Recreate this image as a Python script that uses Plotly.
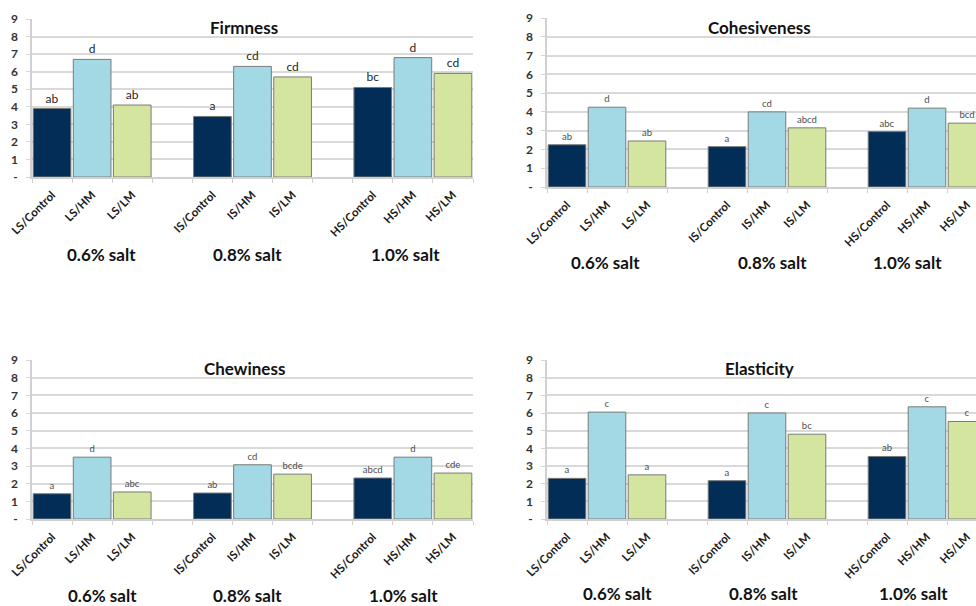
import plotly.graph_objects as go

# Treatments, grouped by salt level (Control / high-MTGase / low-MTGase)
categories = ["LS/Control", "LS/HM", "LS/LM",
              "IS/Control", "IS/HM", "IS/LM",
              "HS/Control", "HS/HM", "HS/LM"]
salt_groups = ["0.6% salt", "0.8% salt", "1.0% salt"]

firmness = [3.9, 6.7, 4.1, 3.45, 6.3, 5.7, 5.1, 6.8, 5.9]
firmness_letters = ["ab", "d", "ab", "a", "cd", "cd", "bc", "d", "cd"]

cohesiveness = [2.25, 4.25, 2.45, 2.15, 4.0, 3.15, 2.95, 4.2, 3.4]
cohesiveness_letters = ["ab", "d", "ab", "a", "cd", "abcd", "abc", "d", "bcd"]

chewiness = [1.43, 3.5, 1.53, 1.47, 3.07, 2.54, 2.32, 3.5, 2.6]
chewiness_letters = ["a", "d", "abc", "ab", "cd", "bcde", "abcd", "d", "cde"]

elasticity = [2.3, 6.05, 2.5, 2.17, 6.0, 4.8, 3.54, 6.35, 5.52]
elasticity_letters = ["a", "c", "a", "a", "c", "bc", "ab", "c", "c"]

y_ticks = [0, 1, 2, 3, 4, 5, 6, 7, 8, 9]
y_ticktext = ["-", "1", "2", "3", "4", "5", "6", "7", "8", "9"]

treatment_colors = ["#012d57", "#a2d9e5", "#d4e5a0"]

W, H = 976, 606
FONT = "Lato"

# category order with an empty slot between salt levels
axis_categories = (categories[0:3] + [" "] + categories[3:6] + ["  "] + categories[6:9])

panels = [
    # title, values, letters, x px span, y px (top, bottom), letter size/colour, range end, title y, group y, group x centres
    ("Firmness", firmness, firmness_letters, (32, 473), (19, 177), 12, "#262626", 10.5, 27, 255, (101, 247, 405)),
    ("Cohesiveness", cohesiveness, cohesiveness_letters, (547, 976), (18, 187), 9.5, "#4d4d4d", 10.225, 27, 262, (605, 772, 907)),
    ("Chewiness", chewiness, chewiness_letters, (32, 473), (360, 519), 9.5, "#4d4d4d", 10.5, 368, 595, (102, 247, 403)),
    ("Elasticity", elasticity, elasticity_letters, (547, 976), (360, 519), 9.5, "#4d4d4d", 10.225, 368, 593, (617, 763, 913)),
]

fig = go.Figure()
annotations = []
layout_axes = {}

for i, (title, vals, letters, (x0, x1), (ytop, ybot), lsize, lcolor, rend, ty, gy, gxs) in enumerate(panels, start=1):
    xa = "x" if i == 1 else f"x{i}"
    ya = "y" if i == 1 else f"y{i}"
    colors = [treatment_colors[k % 3] for k in range(len(categories))]
    letter_font = dict(family=FONT, size=lsize, color=lcolor)
    fig.add_trace(go.Bar(
        x=categories, y=vals, text=letters,
        textposition="outside", cliponaxis=True,
        textfont=letter_font, outsidetextfont=letter_font,
        marker=dict(color=colors, line=dict(color="#7a7a7a", width=1)),
        xaxis=xa, yaxis=ya, showlegend=False, hoverinfo="x+y",
    ))
    xname = "xaxis" if i == 1 else f"xaxis{i}"
    yname = "yaxis" if i == 1 else f"yaxis{i}"
    layout_axes[xname] = dict(
        domain=[x0 / W, x1 / W], anchor=ya, automargin=False,
        type="category", categoryorder="array", categoryarray=axis_categories,
        range=[-0.5, rend], tickson="boundaries",
        ticks="outside", ticklen=4, tickcolor="#d0d0d0",
        ticklabelstandoff=5,
        showline=True, linecolor="#d0d0d0", linewidth=1.5,
        showgrid=False, tickangle=-45,
        tickfont=dict(family=FONT, size=11.5, color="#1a1a1a", weight="bold"),
        fixedrange=True,
    )
    layout_axes[yname] = dict(
        domain=[1 - ybot / H, 1 - ytop / H], anchor=xa, automargin=False,
        range=[0, 9], tickvals=y_ticks, ticktext=y_ticktext,
        ticks="outside", ticklen=4, tickcolor="#d6d6d6",
        ticklabelstandoff=6,
        showline=True, linecolor="#d0d0d0", linewidth=1.5,
        showgrid=True, gridcolor="#d9d9d9", gridwidth=1.5,
        zeroline=False,
        tickfont=dict(family=FONT, size=12, color="#333333", weight="bold"),
        fixedrange=True,
    )
    # panel title
    annotations.append(dict(
        text=f"<b>{title}</b>", x=((x0 + (x0 + 440)) / 2 - 8) / W, y=1 - ty / H,
        xref="paper", yref="paper", showarrow=False, xanchor="center", yanchor="middle",
        font=dict(family=FONT, size=17, color="#111111"),
    ))
    # salt level labels under each group
    for g, gx in zip(salt_groups, gxs):
        annotations.append(dict(
            text=f"<b>{g}</b>", x=gx / W, y=1 - gy / H,
            xref="paper", yref="paper", showarrow=False, xanchor="center", yanchor="middle",
            font=dict(family=FONT, size=17, color="#111111"),
        ))

fig.update_layout(
    width=W, height=H,
    margin=dict(l=0, r=0, t=0, b=0, autoexpand=False),
    paper_bgcolor="white", plot_bgcolor="white",
    bargap=0.06,
    annotations=annotations,
    font=dict(family=FONT),
    **layout_axes,
)

fig.write_html("out.html")
